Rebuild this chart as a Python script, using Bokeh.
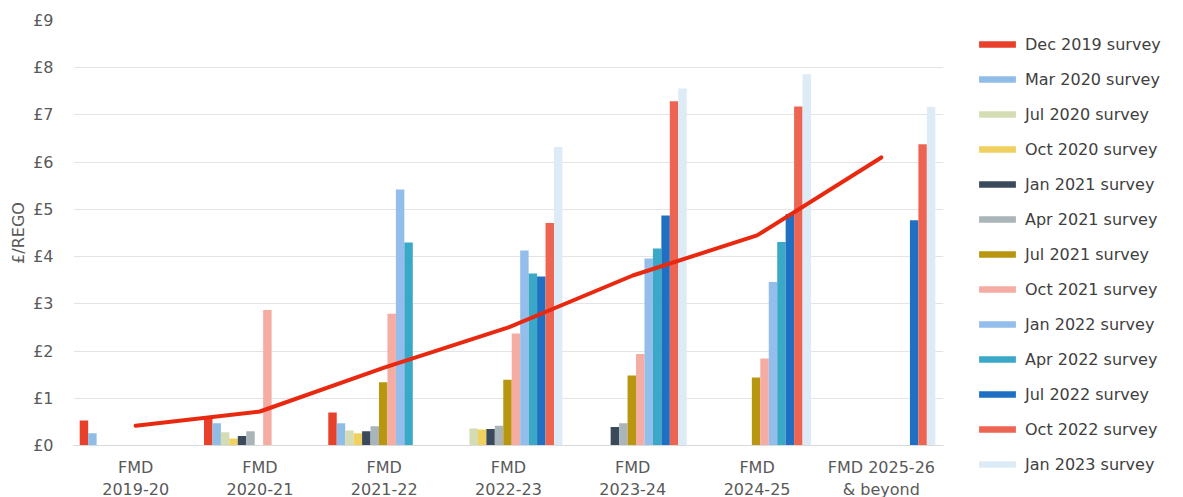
from bokeh.plotting import figure
from bokeh.models import ColumnDataSource, Legend, LegendItem, FixedTicker, PrintfTickFormatter, Range1d
from bokeh.embed import file_html
from bokeh.resources import INLINE

# ---- data ----
periods = ["FMD\n2019-20", "FMD\n2020-21", "FMD\n2021-22", "FMD\n2022-23",
           "FMD\n2023-24", "FMD\n2024-25", "FMD 2025-26\n& beyond"]

surveys = ["Dec 2019 survey", "Mar 2020 survey", "Jul 2020 survey", "Oct 2020 survey",
           "Jan 2021 survey", "Apr 2021 survey", "Jul 2021 survey", "Oct 2021 survey",
           "Jan 2022 survey", "Apr 2022 survey", "Jul 2022 survey", "Oct 2022 survey",
           "Jan 2023 survey"]

colors = ["#e8402b", "#8fbde8", "#d4dcb4", "#f0d15f", "#3b4a5b", "#a9b5b9", "#b8960f",
          "#f5aca3", "#93bdea", "#3aa9c8", "#1f6fc2", "#ee6452", "#dcebf5"]

N = None
dec_2019 = [0.53, 0.62, 0.70, N, N, N, N]
mar_2020 = [0.26, 0.47, 0.47, N, N, N, N]
jul_2020 = [N, 0.28, 0.32, 0.36, N, N, N]
oct_2020 = [N, 0.15, 0.26, 0.34, N, N, N]
jan_2021 = [N, 0.20, 0.30, 0.35, 0.39, N, N]
apr_2021 = [N, 0.30, 0.41, 0.42, 0.47, N, N]
jul_2021 = [N, N, 1.34, 1.39, 1.48, 1.44, N]
oct_2021 = [N, 2.87, 2.79, 2.37, 1.94, 1.84, N]
jan_2022 = [N, N, 5.42, 4.13, 3.96, 3.46, N]
apr_2022 = [N, N, 4.30, 3.64, 4.17, 4.31, N]
jul_2022 = [N, N, N, 3.58, 4.87, 4.90, 4.77]
oct_2022 = [N, N, N, 4.71, 7.29, 7.18, 6.38]
jan_2023 = [N, N, N, 6.32, 7.56, 7.86, 7.17]

series = [dec_2019, mar_2020, jul_2020, oct_2020, jan_2021, apr_2021, jul_2021,
          oct_2021, jan_2022, apr_2022, jul_2022, oct_2022, jan_2023]

trend = [0.42, 0.72, 1.65, 2.50, 3.60, 4.45, 6.10]

y_ticks = list(range(0, 10))

# ---- figure ----
FONT = "DejaVu Sans"
TXT = "#595959"

p = figure(frame_width=870, frame_height=425,
           x_range=Range1d(-0.5, len(periods) - 0.5), y_range=Range1d(0, 9),
           output_backend="svg", toolbar_location=None,
           min_border_left=73, min_border_top=20, min_border_bottom=0, min_border_right=5)
p.outline_line_color = None
p.background_fill_color = "white"

bar_w = 0.068
nser = len(surveys)
renderers = []
for i, (name, vals, col) in enumerate(zip(surveys, series, colors)):
    xs = [k + (i - (nser - 1) / 2) * bar_w - 0.008 for k, v in enumerate(vals) if v is not None]
    ys = [v for v in vals if v is not None]
    src = ColumnDataSource(dict(x=xs, top=ys))
    r = p.vbar(x="x", top="top", width=bar_w, bottom=0, source=src,
               fill_color=col, line_color=None)
    renderers.append(r)

p.line(x=list(range(len(trend))), y=trend, line_color="#e8290f", line_width=4,
       line_join="round", line_cap="round")

# axes
p.yaxis.ticker = FixedTicker(ticks=y_ticks)
p.yaxis.formatter = PrintfTickFormatter(format="£%d")
p.yaxis.axis_label = "£/REGO"
p.yaxis.axis_label_text_font_style = "normal"
p.yaxis.axis_label_text_font = FONT
p.yaxis.axis_label_text_font_size = "16px"
p.yaxis.axis_label_text_color = TXT
p.yaxis.axis_label_standoff = 2
p.yaxis.major_label_text_font = FONT
p.yaxis.major_label_text_font_size = "16px"
p.yaxis.major_label_text_color = TXT
p.yaxis.major_label_standoff = 14
p.yaxis.axis_line_color = None
p.yaxis.major_tick_line_color = None
p.yaxis.minor_tick_line_color = None

p.xaxis.ticker = FixedTicker(ticks=list(range(len(periods))))
p.xaxis.major_label_overrides = {i: lab for i, lab in enumerate(periods)}
p.xaxis.major_label_text_font = FONT
p.xaxis.major_label_text_font_size = "16px"
p.xaxis.major_label_text_color = TXT
p.xaxis.major_label_text_line_height = 1.2
p.xaxis.major_label_standoff = 6
p.xaxis.axis_line_color = "#d9d9d9"
p.xaxis.major_tick_line_color = None
p.xaxis.minor_tick_line_color = None

p.xgrid.grid_line_color = None
p.ygrid.grid_line_color = "#e4e4e4"
p.ygrid.grid_line_width = 1

legend = Legend(items=[LegendItem(label=s, renderers=[r]) for s, r in zip(surveys, renderers)],
                location=(31, -29), glyph_width=46, glyph_height=8, label_standoff=5,
                spacing=15, padding=0, margin=0, label_height=20,
                border_line_alpha=0, background_fill_alpha=0,
                label_text_font=FONT, label_text_font_size="16px", label_text_color="#404040")
p.add_layout(legend, "right")

open("out.html", "w").write(file_html(p, INLINE))
